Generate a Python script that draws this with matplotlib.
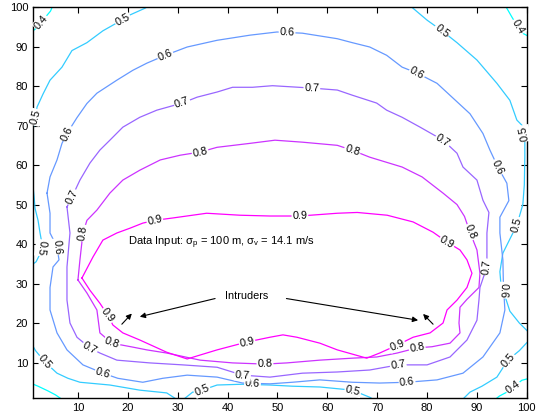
import numpy as np
import matplotlib
matplotlib.use('Agg')
import matplotlib.pyplot as plt

plt.rcParams['font.family'] = ['Liberation Sans', 'DejaVu Sans']
plt.rcParams['mathtext.fontset'] = 'custom'
plt.rcParams['mathtext.rm'] = 'Liberation Sans'
plt.rcParams['mathtext.it'] = 'Liberation Sans'

# contour levels and their line pieces (x, y)
levels = [0.4, 0.5, 0.6, 0.7, 0.8, 0.9]

c04_tl = [(0.5, 93.5), (1.5, 94.5), (2.5, 96), (3.5, 97.5), (4.5, 99), (5, 100.5)]
c04_tr = [(95.5, 100.5), (96, 99.7), (97, 97.5), (98.2, 95), (99, 93.5), (100.5, 92.5)]
c04_br = [(100.5, 6), (99, 5.5), (97.5, 4), (96, 2.5), (94.5, 1.5), (93.5, 0.5)]
c04_bl = [(0.5, 4.8), (2, 4), (4, 2.8), (5.5, 1.8), (7, 0.5)]

c05_left = [(24.5, 100.5), (23.4, 99.7), (20.4, 98), (17.8, 96), (15, 94), (11.8, 91),
            (8.8, 89), (6.8, 84.8), (4.4, 81.5), (3, 78), (1.8, 74.7), (1.3, 71),
            (0.8, 67.6), (0.7, 62), (0.8, 57), (1.2, 52), (1.4, 49), (2, 46),
            (2.4, 42.8), (2.8, 40), (2.2, 37), (1.6, 35.5), (0.5, 34.5)]
c05_right = [(76.5, 100.5), (77.2, 99.7), (80, 96.7), (83, 94), (86, 91), (90, 86.6),
             (94, 80.7), (96.6, 76.4), (98, 71.4), (99.4, 69.6), (99.6, 66), (99.6, 62),
             (99.5, 55), (99.2, 50), (98, 44.8), (96.5, 41), (95.2, 37.7), (94.6, 33),
             (94.8, 30), (96.6, 23), (98.5, 20), (100.5, 17.5)]
c05_br = [(100.5, 15.7), (98.5, 13), (96.2, 10.6), (94, 6.3), (91, 4), (88.6, 2.5), (87, 0.5)]
c05_bl = [(0.5, 15.2), (1.5, 13), (3.4, 10.1), (5.8, 7.3), (8, 6), (10.4, 5), (16.4, 4.3),
          (22.4, 3), (27.8, 2.3), (30, 0.5)]
c05_bm = [(31, 0.5), (33, 2.5), (34.9, 3), (37.9, 4.3), (43, 4.5), (48.5, 4.3), (53, 4),
          (58.5, 3.8), (65, 3), (68.5, 1.2), (69.5, 0.5)]

c06 = [(3.8, 52.9), (4.4, 57), (5.8, 61.3), (6.8, 65.5), (7.8, 68), (9.8, 72), (11.8, 75.6),
       (13.8, 78.2), (17.8, 81.5), (21, 84), (23.8, 85.8), (27.5, 87.8), (31.9, 89.9),
       (37.9, 91.6), (44.5, 92.9), (49.9, 93.7), (55, 93.4), (62, 92), (65, 91), (68.5, 89.9),
       (71.9, 87.8), (75, 84.8), (78, 83.3), (82, 80.7), (85, 77.2), (88.6, 73), (91.2, 68),
       (92.6, 63.8), (94.2, 59.5), (96, 55.4), (96.4, 51), (94.6, 46.8), (94.6, 42.8),
       (95.2, 36), (95.3, 30), (95.6, 23.3), (94.6, 17.5), (91.2, 11.4), (87.2, 7.3),
       (82, 5.6), (76, 5), (70.5, 4.8), (65, 5), (58.5, 5.6), (53, 5), (48.5, 4.6), (43, 4.8),
       (37.9, 6.3), (31.9, 6.8), (27, 6), (23, 5), (18, 6), (15, 7.3), (11, 9.4), (7.8, 13.2),
       (5.8, 17.5), (4.4, 23.3), (4.4, 29), (5, 34.2), (6.2, 36), (5.8, 39.3), (4.4, 42.8),
       (4.4, 47.8), (3.8, 52.9)]

c07 = [(7.8, 49.4), (8.8, 51.9), (10.4, 56.2), (12.4, 60.5), (14.4, 63.8), (16.4, 66.3),
       (19, 69.6), (22.4, 72.1), (25.8, 73.9), (30.9, 75.7), (33.9, 77.2), (37.9, 78.5),
       (41, 79.7), (45, 79.7), (49, 80.1), (56.9, 79.5), (62, 79), (65, 77.7), (69.9, 75.7),
       (71.9, 73.9), (75, 72.1), (78.6, 69.6), (83.2, 66.3), (86, 63), (87.2, 59.5),
       (90, 56.2), (91.2, 51.1), (92.4, 48), (92, 42.8), (92, 38), (92, 34.2), (90.6, 29),
       (90.4, 25.8), (90, 20.7), (88, 15.7), (84.6, 11.4), (80, 9.4), (74.2, 9.4),
       (68.5, 8.1), (62, 7.6), (55, 7.3), (48.5, 6.3), (43, 6.8), (37.9, 8.8), (31, 9.4),
       (24.4, 9.9), (17.8, 10.6), (14.4, 12.4), (12.4, 13.7), (9.8, 16.4), (8.4, 20),
       (7.8, 25.8), (7.8, 30), (7.8, 34.2), (8.4, 42.8), (7.8, 49.4)]

c08 = [(10, 30.9), (10.4, 36), (11, 42.8), (11.8, 46), (13.8, 48.6), (16.4, 52.9), (19, 56.2),
       (22.4, 58.7), (26.5, 61.3), (30.5, 62.5), (34.5, 63.3), (37.9, 64.5), (44.5, 65.5),
       (49.5, 66.3), (55, 65.8), (62, 65), (64.9, 63.8), (68.5, 62), (75, 59.5), (79, 57),
       (83.2, 52.9), (86, 50), (87.5, 47), (88.6, 43), (90, 38.5), (90.6, 32.6), (90.4, 29),
       (88, 26), (86.6, 24), (86.4, 20), (86.6, 17.5), (84.6, 14.9), (81, 14), (78, 13.7),
       (74, 12.4), (69.9, 11.4), (65, 11.1), (58.5, 10.6), (51.9, 9.9), (47.5, 9.6),
       (41, 9.9), (34.5, 10.6), (27.8, 12.4), (23.8, 13.2), (21, 13.9), (16.8, 14.9),
       (14.4, 17.5), (13.8, 23.3), (11.8, 27.6), (10, 30.9)]

c09 = [(10.8, 31.4), (13, 36.7), (15, 41), (17.8, 42.8), (20.4, 44), (23, 45.3), (25.4, 46),
       (29, 46.6), (35.8, 47.8), (42.5, 47.3), (48.5, 47.1), (54.5, 47.1), (62, 47.8),
       (66, 48), (72, 47.3), (77.2, 45.6), (81.2, 43), (84, 40.5), (86.6, 38.5), (88, 36),
       (89, 32.6), (88, 29), (86, 25.8), (84, 23.3), (83.2, 20), (80.6, 17.5), (77.2, 16.4),
       (74, 14.4), (70.5, 12.4), (67.9, 11.1), (62, 13.2), (58.5, 14.9), (53.9, 16.4),
       (51.1, 17), (48.5, 16.4), (43.9, 15.2), (37.9, 13.2), (31.9, 10.9), (27.8, 12.6),
       (22.4, 15.7), (19, 17.5), (17, 19.5), (16, 22), (14.4, 25), (12.4, 28.3), (10.8, 31.4)]

# inline level labels: x, y, reading direction on steep lines ('u' up, 'd' down)
lab04 = [(2.8, 96, ''), (98.2, 95, 'd'), (97.2, 3.8, '')]
lab05 = [(18.8, 97.2, ''), (83, 94, 'd'), (2, 72, 'u'), (99.3, 68, 'u'), (98, 44.8, 'u'),
         (2.8, 39, 'd'), (3.4, 10.1, ''), (34.9, 3, ''), (65, 2.5, ''), (96.2, 10.6, '')]
lab06 = [(7.8, 68, 'u'), (27.5, 87.8, ''), (51.9, 92.9, ''), (78, 83.3, ''),
         (94.2, 59.5, 'd'), (95.2, 28.3, 'd'), (76, 5, ''), (45, 4.6, ''), (15, 7.3, ''),
         (5.8, 39.3, 'd')]
lab07 = [(8.8, 51.9, 'u'), (30.9, 75.7, ''), (56.9, 79.5, ''), (83.2, 66.3, ''),
         (92, 34.2, 'u'), (74.2, 9.4, ''), (43, 6.8, ''), (12.4, 13.7, '')]
lab08 = [(34.5, 63.3, ''), (64.9, 63.3, ''), (88.6, 43, 'd'), (78, 13.7, ''),
         (47.5, 9.6, ''), (16.8, 14.9, ''), (11, 42.8, 'u')]
lab09 = [(25.4, 46, ''), (54.5, 47.1, ''), (84, 40.5, ''), (74, 14.4, ''),
         (43.9, 15.2, ''), (16, 22, 'd')]

pieces = {0.4: [c04_tl, c04_tr, c04_br, c04_bl],
          0.5: [c05_left, c05_right, c05_br, c05_bl, c05_bm],
          0.6: [c06], 0.7: [c07], 0.8: [c08], 0.9: [c09]}
label_pos = {0.4: lab04, 0.5: lab05, 0.6: lab06, 0.7: lab07, 0.8: lab08, 0.9: lab09}

fig = plt.figure(figsize=(5.42, 4.19), dpi=100)
ax = fig.add_axes([0.061, 0.050, 0.911, 0.933])
ax.set_xlim(1, 100)
ax.set_ylim(1, 100)

cmap = plt.get_cmap('cool')


def put_label(ax, segs, lx, ly, way, text):
    # snap the label onto the nearest piece of line and turn it along the line
    p = ax.transData.transform((lx, ly))
    best = None
    for seg in segs:
        d = ax.transData.transform(np.array(seg))
        for i in range(len(d) - 1):
            a, b = d[i], d[i + 1]
            ab = b - a
            t = np.clip(np.dot(p - a, ab) / max(np.dot(ab, ab), 1e-9), 0, 1)
            q = a + t * ab
            dist = np.hypot(*(p - q))
            if best is None or dist < best[0]:
                i0 = max(i - 1, 0)
                i1 = min(i + 2, len(d) - 1)
                best = (dist, q, d[i1] - d[i0])
    _, q, v = best
    ang = np.degrees(np.arctan2(v[1], v[0]))
    if way == 'u':
        if ang < 0:
            ang += 180
    elif way == 'd':
        if ang > 0:
            ang -= 180
    else:
        if ang > 90:
            ang -= 180
        elif ang <= -90:
            ang += 180
    x, y = ax.transData.inverted().transform(q)
    ax.text(x, y, text, rotation=ang, rotation_mode='anchor', ha='center', va='center',
            fontsize=7.8, zorder=5,
            bbox=dict(boxstyle='square,pad=0.08', fc='white', ec='none'))


for k, lev in enumerate(levels):
    col = cmap(k / (len(levels) - 1))
    for seg in pieces[lev]:
        xs, ys = zip(*seg)
        ax.plot(xs, ys, color=col, lw=0.9, zorder=2)
    for lx, ly, way in label_pos[lev]:
        put_label(ax, pieces[lev], lx, ly, way, f'{lev:.1f}')

ax.text(20, 40.2, r'Data Input: $\sigma_\mathrm{p}$ = 100 m, $\sigma_\mathrm{v}$ = 14.1 m/s',
        fontsize=8, ha='left', va='center')
ax.text(43.9, 26.8, 'Intruders', fontsize=7.8, ha='center', va='center')

arr = dict(arrowstyle='-|>', color='k', lw=0.8, mutation_scale=8, shrinkA=0, shrinkB=0)
ax.annotate('', xy=(22.4, 21.6), xytext=(37.5, 26.2), arrowprops=arr)
ax.annotate('', xy=(78.2, 20.7), xytext=(51.8, 26.2), arrowprops=arr)
ax.annotate('', xy=(20.8, 22.4), xytext=(18.8, 19.7), arrowprops=arr)
ax.annotate('', xy=(79.2, 22.3), xytext=(81.2, 19.7), arrowprops=arr)

ax.set_xticks(range(10, 101, 10))
ax.set_yticks(range(10, 101, 10))
ax.tick_params(direction='in', length=4, width=0.8, top=True, right=True, labelsize=8)
for s in ax.spines.values():
    s.set_linewidth(1.0)

fig.savefig('out.png', dpi=100)
